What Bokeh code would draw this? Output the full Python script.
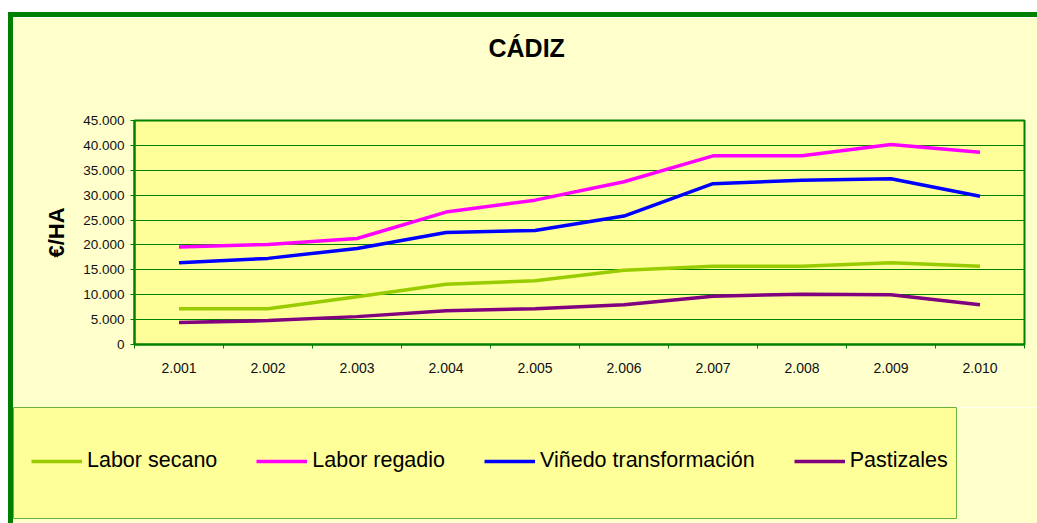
from bokeh.plotting import figure
from bokeh.models import Range1d, FixedTicker, Legend, LegendItem, Spacer, Title
from bokeh.layouts import column, row
from bokeh.embed import file_html
from bokeh.resources import INLINE

# ---- data ----
years = ["2.001", "2.002", "2.003", "2.004", "2.005",
         "2.006", "2.007", "2.008", "2.009", "2.010"]
labor_secano = [7200, 7200, 9600, 12100, 12800, 14900, 15700, 15700, 16400, 15700]
labor_regadio = [19600, 20100, 21300, 26600, 29000, 32700, 37900, 37900, 40200, 38600]
vinedo_transformacion = [16400, 17300, 19300, 22500, 22900, 25800, 32300, 33000, 33300, 29800]
pastizales = [4400, 4800, 5600, 6800, 7200, 8000, 9700, 10100, 10000, 8000]
series_names = ["Labor secano", "Labor regadio", "Viñedo transformación", "Pastizales"]
series_colors = ["#99CC00", "#FF00FF", "#0000FF", "#800080"]
y_ticks = [0, 5000, 10000, 15000, 20000, 25000, 30000, 35000, 40000, 45000]
title_text = "CÁDIZ"
y_label = "€/HA"

series_values = [labor_secano, labor_regadio, vinedo_transformacion, pastizales]
n = len(years)
xs = [i + 0.5 for i in range(n)]

FONT = "Liberation Sans"
GREEN = "#008000"
OUTER_BG = "#FFFFCC"
INNER_BG = "#FFFF99"

# ---------------- chart figure ----------------
W1, H1 = 1024, 390
p = figure(width=W1, height=H1, x_range=Range1d(0, n), y_range=Range1d(y_ticks[0], y_ticks[-1]),
           output_backend="svg", toolbar_location=None,
           min_border_left=121, min_border_top=103, min_border_right=13, min_border_bottom=63)
p.frame_align = False

p.background_fill_color = INNER_BG
p.border_fill_color = OUTER_BG
p.outline_line_color = GREEN
p.outline_line_width = 2

# blank spacer panel between the frame and the title
p.add_layout(Title(text=" ", text_font_size="1px", standoff=51), "above")
p.title = Title(text=title_text, align="left", offset=354, text_font=FONT,
                text_font_size="25px", text_font_style="bold", text_color="black",
                standoff=10)

for vals, col in zip(series_values, series_colors):
    p.line(xs, vals, line_color=col, line_width=3.5)

p.xgrid.grid_line_color = None
p.ygrid.grid_line_color = GREEN
p.ygrid.grid_line_width = 1

p.yaxis.ticker = FixedTicker(ticks=y_ticks)
p.yaxis.major_label_overrides = {t: f"{t:,}".replace(",", ".") for t in y_ticks}
p.xaxis.ticker = FixedTicker(ticks=xs, minor_ticks=list(range(n + 1)))
p.xaxis.major_label_overrides = {x: lab for x, lab in zip(xs, years)}

for ax in (p.xaxis, p.yaxis):
    ax.axis_line_color = GREEN
    ax.axis_line_width = 2
    ax.major_tick_line_color = GREEN
    ax.minor_tick_line_color = GREEN
    ax.major_label_text_font = FONT
    ax.major_label_text_color = "#111111"

p.xaxis.major_tick_in = 0
p.xaxis.major_tick_out = 0
p.xaxis.minor_tick_in = 0
p.xaxis.minor_tick_out = 4
p.xaxis.major_label_text_font_size = "14px"
p.xaxis.major_label_standoff = 14

p.yaxis.major_tick_in = 0
p.yaxis.major_tick_out = 4
p.yaxis.minor_tick_line_color = None
p.yaxis.major_label_text_font_size = "13.5px"
p.yaxis.major_label_standoff = 6
p.yaxis.axis_label = y_label
p.yaxis.axis_label_text_font = FONT
p.yaxis.axis_label_text_font_size = "22px"
p.yaxis.axis_label_text_font_style = "bold"
p.yaxis.axis_label_text_color = "black"
p.yaxis.axis_label_standoff = 11

# ---------------- legend figure ----------------
# The same series are drawn here outside the visible ranges, only so the legend has glyphs.
W2, H2 = 1024, 116
q = figure(width=W2, height=H2, x_range=Range1d(0, 1), y_range=Range1d(-2, -1),
           output_backend="svg", toolbar_location=None,
           min_border_left=0, min_border_top=0, min_border_right=81, min_border_bottom=5)
q.frame_align = False
q.axis.visible = False
q.grid.visible = False
q.background_fill_color = INNER_BG
q.border_fill_color = OUTER_BG
q.outline_line_color = "#6AB23A"
q.outline_line_width = 1

proxies = [q.line(xs, vals, line_color=col, line_width=3.5)
           for vals, col in zip(series_values, series_colors)]
legend = Legend(items=[LegendItem(label=nm, renderers=[r]) for nm, r in zip(series_names, proxies)],
                orientation="horizontal", location=(18, 45), padding=0, margin=0,
                spacing=39, label_standoff=5, glyph_width=51, glyph_height=22, label_height=22,
                label_text_font=FONT, label_text_font_size="21.5px", label_text_color="black",
                background_fill_alpha=0, border_line_color=None)
q.add_layout(legend, "center")

green_bar = {"background-color": GREEN}
page = column(
    Spacer(width=1037, height=12),
    row(Spacer(width=8, height=5), Spacer(width=1029, height=5, styles=green_bar)),
    row(Spacer(width=8, height=H1 + H2), Spacer(width=5, height=H1 + H2, styles=green_bar),
        column(p, q)),
)

open("out.html", "w").write(file_html(page, INLINE))
